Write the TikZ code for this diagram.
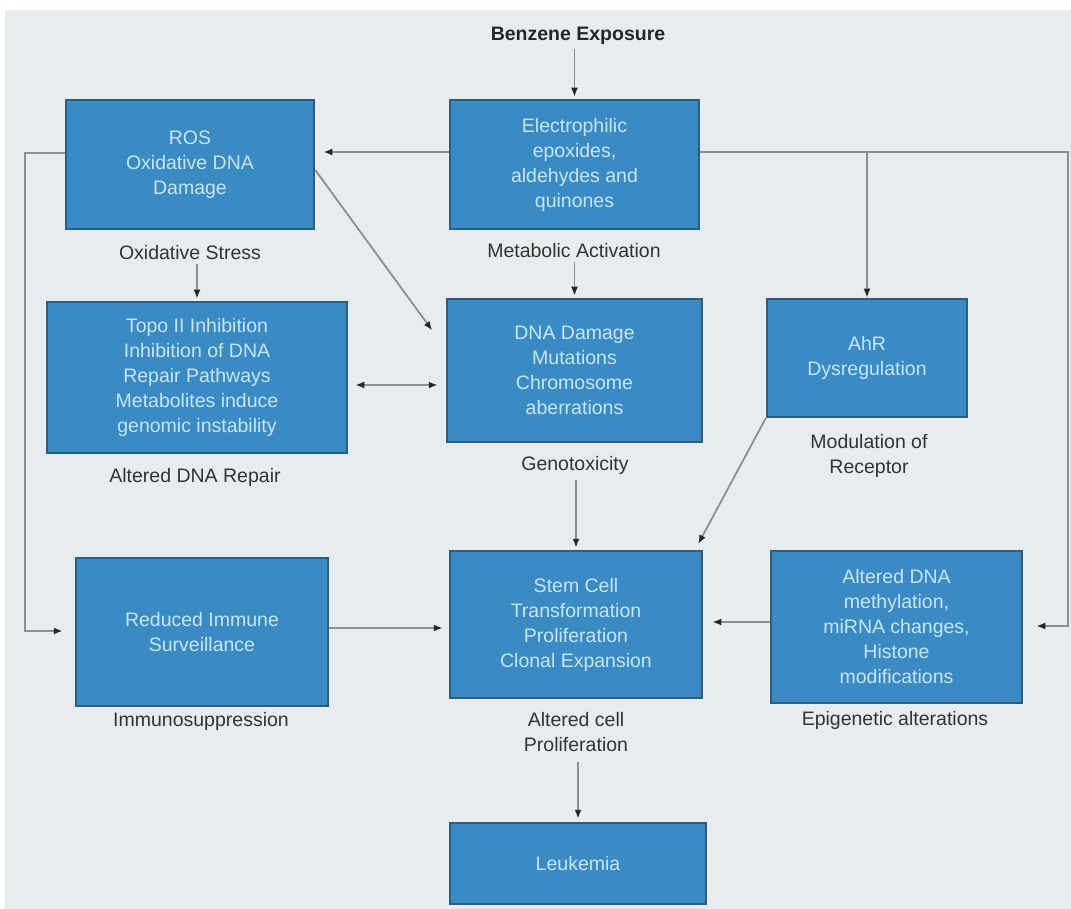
\documentclass[tikz,border=0pt]{standalone}
\usepackage{fontspec}
\setmainfont{Liberation Sans}
\usetikzlibrary{arrows.meta,calc}
\definecolor{bg}{HTML}{E7ECEE}
\definecolor{boxfill}{HTML}{3A8AC3}
\definecolor{boxline}{HTML}{2C5E7E}
\definecolor{boxtext}{HTML}{C6E6F8}
\definecolor{lbltext}{HTML}{333333}
\definecolor{conn}{HTML}{8A8F92}
\begin{document}
\begin{tikzpicture}[x=1pt,y=-1pt,
  blk/.style={draw=boxline, line width=2.5pt, fill=boxfill, text=boxtext, align=center, inner sep=0pt, font=\fontsize{19.5}{25}\selectfont},
  lbl/.style={text=lbltext, align=center, font=\fontsize{19.5}{25}\selectfont, inner sep=2pt},
  arr/.style={draw=conn, line width=1.8pt, -{Latex[length=9pt,width=7pt,color=black!85]}},
  darr/.style={draw=conn, line width=1.8pt, {Latex[length=9pt,width=7pt,color=black!85]}-{Latex[length=9pt,width=7pt,color=black!85]}},
]
\useasboundingbox (0,0) rectangle (1071,909);
\fill[bg] (5,10) rectangle (1071,909);

% boxes
\node[blk, minimum width=248pt, minimum height=129pt] (ros) at (190,164.5) {ROS\\Oxidative DNA\\Damage};
\node[blk, minimum width=249pt, minimum height=129pt] (elec) at (574.5,164.5) {Electrophilic\\epoxides,\\aldehydes and\\quinones};
\node[blk, minimum width=300pt, minimum height=151pt] (topo) at (197,377.5) {Topo II Inhibition\\Inhibition of DNA\\Repair Pathways\\Metabolites induce\\genomic instability};
\node[blk, minimum width=255pt, minimum height=143pt] (dna) at (574.5,370.5) {DNA Damage\\Mutations\\Chromosome\\aberrations};
\node[blk, minimum width=200pt, minimum height=118pt] (ahr) at (867,358) {AhR\\Dysregulation};
\node[blk, minimum width=252pt, minimum height=148pt] (imm) at (202,632) {Reduced Immune\\Surveillance};
\node[blk, minimum width=252pt, minimum height=147pt] (stem) at (576,624.5) {Stem Cell\\Transformation\\Proliferation\\Clonal Expansion};
\node[blk, minimum width=251pt, minimum height=152pt] (epi) at (896.5,627) {Altered DNA\\methylation,\\miRNA changes,\\Histone\\modifications};
\node[blk, minimum width=256pt, minimum height=81pt] (leuk) at (578,863.5) {Leukemia};

% labels
\node[lbl, text=black!85, font=\fontsize{19.5}{25}\selectfont\bfseries] (benz) at (578,36) {Benzene Exposure};
\node[lbl] (oxlab) at (190,253) {Oxidative Stress};
\node[lbl] (metlab) at (574,251) {Metabolic Activation};
\node[lbl] (replab) at (195,477) {Altered DNA Repair};
\node[lbl] (genlab) at (575,465) {Genotoxicity};
\node[lbl] (modlab) at (869,456) {Modulation of\\Receptor};
\node[lbl] (immlab) at (201,721) {Immunosuppression};
\node[lbl] (prolab) at (576,732) {Altered cell\\Proliferation};
\node[lbl] (epilab) at (895,720) {Epigenetic alterations};

% connectors
\draw[arr, shorten <=2pt, shorten >=2pt] (elec.north |- benz.south) -- (elec.north);
\draw[arr, shorten >=8pt] (elec.west |- 0,152) -- (ros.east |- 0,152);
\draw[arr, shorten >=13pt] (elec.east |- 0,152) -| ($(epi.east |- 0,626)+(45,0)$) -- (epi.east |- 0,626);
\draw[arr] (ahr.north |- 0,152) -- (ahr.north);
\draw[arr, shorten <=2pt, shorten >=2pt] (dna.north |- metlab.south) -- (dna.north);
\draw[arr, shorten >=23pt] (ros.east |- 0,170) -- (dna.west |- 0,349);
\draw[arr, shorten <=2pt, shorten >=2pt] (topo.north |- oxlab.south) -- (topo.north);
\draw[darr, shorten <=7pt, shorten >=8pt] (topo.east |- 0,385) -- (dna.west |- 0,385);
\draw[arr, shorten >=12pt] (ros.west |- 0,153) -| (25,631) -- (imm.west |- 0,631);
\draw[arr, shorten <=4pt, shorten >=2pt] (stem.north |- genlab.south) -- (stem.north);
\draw[arr, shorten >=2pt] (ahr.south west) -- ($(stem.north east)+(-6,-4)$);
\draw[arr, shorten >=6pt] (imm.east |- 0,628) -- (stem.west |- 0,628);
\draw[arr, shorten >=9pt] (epi.west |- 0,622) -- (stem.east |- 0,622);
\draw[arr, shorten <=8pt, shorten >=3pt] (leuk.north |- prolab.south) -- (leuk.north);
\end{tikzpicture}
\end{document}
